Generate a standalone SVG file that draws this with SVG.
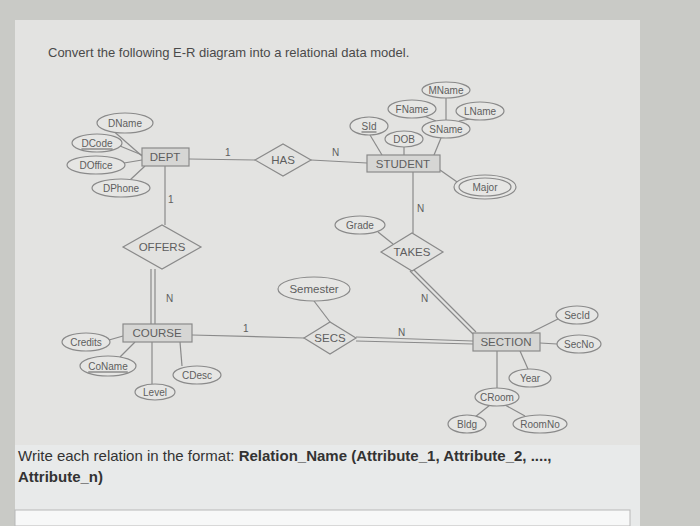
<svg xmlns="http://www.w3.org/2000/svg" width="700" height="526" viewBox="0 0 700 526">
<style>
.e{fill:#e6e6e4;stroke:#8a8a8a;stroke-width:1.2}
.r{fill:#d6d6d4;stroke:#8a8a8a;stroke-width:1.2}
.d{fill:#e2e2e0;stroke:#8a8a8a;stroke-width:1.2}
.l{stroke:#8a8a8a;stroke-width:1.2;fill:none}
text{font-family:"Liberation Sans",Arial,sans-serif}
.t{font-size:10px;fill:#5e5e5e;text-anchor:middle;dominant-baseline:central}
.b{font-size:11.5px;fill:#5e5e5e;text-anchor:middle;dominant-baseline:central}
.c{font-size:10px;fill:#5e5e5e}
.u{text-decoration:underline}
</style>
<rect width="700" height="526" fill="#c9cac6"/>
<rect x="15" y="20" width="625" height="506" fill="#e3e3e1"/>
<rect x="15" y="445" width="625" height="81" fill="#e8eaea"/>
<rect x="15" y="510" width="615" height="16" fill="#f7f8f8" stroke="#b8b8b8"/>
<text x="48" y="57" font-size="13" fill="#4a4a4a">Convert the following E-R diagram into a relational data model.</text>
<g id="connectors">
<line class="l" x1="142" y1="156" x2="110" y2="128"/>
<line class="l" x1="142" y1="155" x2="120" y2="146"/>
<line class="l" x1="142" y1="160" x2="124" y2="163"/>
<line class="l" x1="145" y1="166" x2="130" y2="180"/>
<line class="l" x1="189" y1="159" x2="255" y2="160"/>
<line class="l" x1="311" y1="160" x2="367" y2="163"/>
<line class="l" x1="165" y1="166" x2="165" y2="225"/>
<line class="l" x1="382" y1="155" x2="370" y2="135"/>
<line class="l" x1="404" y1="155" x2="404" y2="147"/>
<line class="l" x1="434" y1="155" x2="441" y2="138"/>
<line class="l" x1="446" y1="120" x2="446" y2="98"/>
<line class="l" x1="436" y1="121" x2="424" y2="116"/>
<line class="l" x1="459" y1="121" x2="470" y2="119"/>
<line class="l" x1="440" y1="170" x2="460" y2="184"/>
<line class="l" x1="413" y1="172" x2="413" y2="233"/>
<line class="l" x1="378" y1="232" x2="393" y2="244"/>
<path class="l" d="M151 269V324M155 269V324"/>
<line class="l" x1="123" y1="336" x2="109" y2="340"/>
<line class="l" x1="135" y1="342" x2="120" y2="357"/>
<line class="l" x1="152" y1="342" x2="152" y2="384"/>
<line class="l" x1="180" y1="342" x2="182" y2="366"/>
<line class="l" x1="192" y1="335" x2="304" y2="338"/>
<line class="l" x1="314" y1="301" x2="330" y2="322"/>
<path class="l" d="M356 337L473 341M356 341L473 344"/>
<path class="l" d="M410 271L473 334M414 270L476 332"/>
<line class="l" x1="530" y1="333" x2="560" y2="318"/>
<line class="l" x1="540" y1="343" x2="557" y2="344"/>
<line class="l" x1="520" y1="351" x2="528" y2="369"/>
<line class="l" x1="497" y1="351" x2="497" y2="389"/>
<line class="l" x1="490" y1="405" x2="475" y2="417"/>
<line class="l" x1="505" y1="405" x2="525" y2="416"/>
<text class="c" x="225" y="156">1</text>
<text class="c" x="332" y="156">N</text>
<text class="c" x="168" y="203">1</text>
<text class="c" x="417" y="212">N</text>
<text class="c" x="166" y="302">N</text>
<text class="c" x="243" y="332">1</text>
<text class="c" x="398" y="336">N</text>
<text class="c" x="421" y="302">N</text>
</g>
<g id="DEPT"><rect class="r" x="142" y="148" width="47" height="18"/><text class="b" x="165" y="157">DEPT</text></g>
<g id="DName"><ellipse class="e" cx="125" cy="123" rx="28" ry="10"/><text class="t" x="125" y="123">DName</text></g>
<g id="DCode"><ellipse class="e" cx="97" cy="143" rx="25" ry="9"/><text class="t u" x="97" y="143">DCode</text></g>
<g id="DOffice"><ellipse class="e" cx="96" cy="165" rx="29" ry="9"/><text class="t" x="96" y="165">DOffice</text></g>
<g id="DPhone"><ellipse class="e" cx="121" cy="188" rx="29" ry="9"/><text class="t" x="121" y="188">DPhone</text></g>
<g id="HAS"><polygon class="d" points="255,160 283,144 311,160 283,176"/><text class="b" x="283" y="160">HAS</text></g>
<g id="OFFERS"><polygon class="d" points="123,247 162,225 201,247 162,269"/><text class="b" x="162" y="247">OFFERS</text></g>
<g id="STUDENT"><rect class="r" x="367" y="155" width="73" height="17"/><text class="b" x="403" y="164">STUDENT</text></g>
<g id="SId"><ellipse class="e" cx="369" cy="126" rx="19" ry="9"/><text class="t u" x="369" y="126">SId</text></g>
<g id="DOB"><ellipse class="e" cx="404" cy="139" rx="19" ry="8"/><text class="t" x="404" y="139">DOB</text></g>
<g id="SName"><ellipse class="e" cx="446" cy="129" rx="24" ry="9"/><text class="t" x="446" y="129">SName</text></g>
<g id="FName"><ellipse class="e" cx="412" cy="109" rx="24" ry="9"/><text class="t" x="412" y="109">FName</text></g>
<g id="MName"><ellipse class="e" cx="446" cy="90" rx="24" ry="8"/><text class="t" x="446" y="90">MName</text></g>
<g id="LName"><ellipse class="e" cx="480" cy="111" rx="24" ry="9"/><text class="t" x="480" y="111">LName</text></g>
<g id="Major"><ellipse class="e" cx="485" cy="187" rx="31" ry="12"/><ellipse class="e" cx="485" cy="187" rx="26" ry="9"/><text class="t" x="485" y="187">Major</text></g>
<g id="TAKES"><polygon class="d" points="381,252 412,233 443,252 412,271"/><text class="b" x="412" y="252">TAKES</text></g>
<g id="Grade"><ellipse class="e" cx="360" cy="225" rx="25" ry="9"/><text class="t" x="360" y="225">Grade</text></g>
<g id="COURSE"><rect class="r" x="123" y="324" width="69" height="18"/><text class="b" x="157" y="333">COURSE</text></g>
<g id="Credits"><ellipse class="e" cx="86" cy="342" rx="24" ry="9"/><text class="t" x="86" y="342">Credits</text></g>
<g id="CoName"><ellipse class="e" cx="108" cy="366" rx="28" ry="10"/><text class="t u" x="108" y="366">CoName</text></g>
<g id="Level"><ellipse class="e" cx="155" cy="392" rx="20" ry="8"/><text class="t" x="155" y="392">Level</text></g>
<g id="CDesc"><ellipse class="e" cx="197" cy="375" rx="24" ry="9"/><text class="t" x="197" y="375">CDesc</text></g>
<g id="SECS"><polygon class="d" points="304,338 330,322 356,338 330,354"/><text class="b" x="330" y="338">SECS</text></g>
<g id="Semester"><ellipse class="e" cx="314" cy="289" rx="36" ry="12"/><text class="b" x="314" y="289">Semester</text></g>
<g id="SECTION"><rect class="r" x="473" y="333" width="67" height="18"/><text class="b" x="506" y="342">SECTION</text></g>
<g id="SecId"><ellipse class="e" cx="577" cy="315" rx="21" ry="9"/><text class="t" x="577" y="315">SecId</text></g>
<g id="SecNo"><ellipse class="e" cx="579" cy="344" rx="22" ry="9"/><text class="t" x="579" y="344">SecNo</text></g>
<g id="Year"><ellipse class="e" cx="530" cy="378" rx="21" ry="9"/><text class="t" x="530" y="378">Year</text></g>
<g id="CRoom"><ellipse class="e" cx="497" cy="397" rx="22" ry="9"/><text class="t" x="497" y="397">CRoom</text></g>
<g id="Bldg"><ellipse class="e" cx="467" cy="424" rx="19" ry="9"/><text class="t" x="467" y="424">Bldg</text></g>
<g id="RoomNo"><ellipse class="e" cx="540" cy="424" rx="27" ry="9"/><text class="t" x="540" y="424">RoomNo</text></g>
<text x="18" y="461" font-size="15" fill="#333">Write each relation in the format: <tspan font-weight="bold">Relation_Name (Attribute_1, Attribute_2, ....,</tspan></text>
<text x="18" y="482" font-size="15" fill="#333" font-weight="bold">Attribute_n)</text>
</svg>
